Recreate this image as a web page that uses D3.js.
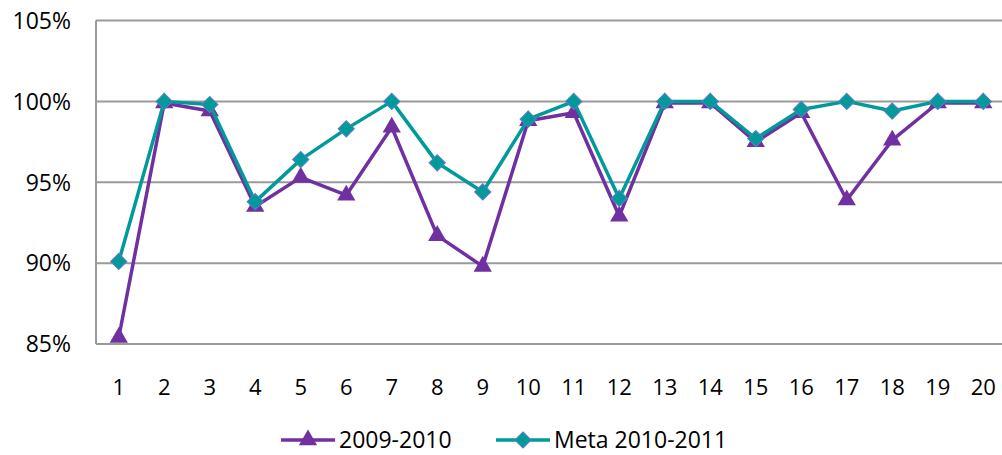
<!DOCTYPE html>
<html>
<head>
<meta charset="utf-8">
<script src="https://cdn.jsdelivr.net/npm/d3@7"></script>
<style>
  body { margin: 0; background: #fff; }
  svg text { font-family: "Open Sans", sans-serif; fill: #000; }
</style>
</head>
<body>
<div id="chart"></div>
<script>
// data
var categories = d3.range(1, 21);
var series2009 = [85.4, 99.9, 99.4, 93.5, 95.3, 94.2, 98.4, 91.7, 89.8, 98.8,
                  99.3, 92.9, 99.9, 99.9, 97.5, 99.3, 93.9, 97.6, 99.9, 99.9];
var seriesMeta = [90.1, 100, 99.8, 93.8, 96.4, 98.3, 100, 96.2, 94.4, 98.9,
                  100, 94.0, 100, 100, 97.7, 99.5, 100, 99.4, 100, 100];
var yTicks = [85, 90, 95, 100, 105];
var seriesNames = ["2009-2010", "Meta 2010-2011"];

var svgWidth = 1002;
var svgHeight = 455;

var purple = "#7030A0";
var teal = "#009A9A";

var svg = d3.select("#chart").append("svg")
  .attr("width", svgWidth)
  .attr("height", svgHeight);

// scales
var xScale = d3.scaleBand()
  .domain(categories)
  .range([96, 96 + 20 * 45.5]);

var yScale = d3.scaleLinear()
  .domain([85, 105])
  .range([344, 20.5]);

// gridlines
svg.append("g")
  .selectAll("line")
  .data(yTicks)
  .enter()
  .append("line")
  .attr("x1", 96)
  .attr("x2", svgWidth)
  .attr("y1", d => yScale(d))
  .attr("y2", d => yScale(d))
  .attr("stroke", "#9a9a9a")
  .attr("stroke-width", 2);

// left axis line
svg.append("line")
  .attr("x1", 96).attr("x2", 96)
  .attr("y1", yScale(105)).attr("y2", yScale(85))
  .attr("stroke", "#9a9a9a")
  .attr("stroke-width", 2);

// y labels
svg.append("g")
  .selectAll("text")
  .data(yTicks)
  .enter()
  .append("text")
  .attr("x", 71)
  .attr("y", d => yScale(d))
  .attr("dy", "0.36em")
  .attr("text-anchor", "end")
  .attr("font-size", "23px")
  .text(d => d + "%");

// x labels
svg.append("g")
  .selectAll("text")
  .data(categories)
  .enter()
  .append("text")
  .attr("x", d => xScale(d) + xScale.bandwidth() / 2)
  .attr("y", 395)
  .attr("text-anchor", "middle")
  .attr("font-size", "22px")
  .text(d => d);

var line = d3.line()
  .x((d, i) => xScale(categories[i]) + xScale.bandwidth() / 2)
  .y(d => yScale(d));

var triangle = d3.symbol().type(d3.symbolTriangle).size(145);
var diamond = "M0,-8L8,0L0,8L-8,0Z";

// 2009-2010 series
svg.append("path")
  .datum(series2009)
  .attr("d", line)
  .attr("fill", "none")
  .attr("stroke", purple)
  .attr("stroke-width", 3.5)
  .attr("stroke-linejoin", "round");

svg.append("g")
  .selectAll("path")
  .data(series2009)
  .enter()
  .append("path")
  .attr("d", triangle)
  .attr("transform", (d, i) => `translate(${xScale(categories[i]) + xScale.bandwidth() / 2}, ${yScale(d)})`)
  .attr("fill", purple);

// meta series
svg.append("path")
  .datum(seriesMeta)
  .attr("d", line)
  .attr("fill", "none")
  .attr("stroke", teal)
  .attr("stroke-width", 3.5)
  .attr("stroke-linejoin", "round");

svg.append("g")
  .selectAll("path")
  .data(seriesMeta)
  .enter()
  .append("path")
  .attr("d", diamond)
  .attr("transform", (d, i) => `translate(${xScale(categories[i]) + xScale.bandwidth() / 2}, ${yScale(d)})`)
  .attr("fill", teal)
  .attr("stroke", "#4f81bd")
  .attr("stroke-width", 1.2);

// legend
var legend = svg.append("g").attr("transform", "translate(0, 440)");

legend.append("line")
  .attr("x1", 281).attr("x2", 335)
  .attr("stroke", purple).attr("stroke-width", 3.5);
legend.append("path")
  .attr("d", triangle)
  .attr("transform", "translate(308, 0)")
  .attr("fill", purple);
legend.append("text")
  .attr("x", 339).attr("dy", "0.36em")
  .attr("font-size", "23px")
  .text(seriesNames[0]);

legend.append("line")
  .attr("x1", 496).attr("x2", 550)
  .attr("stroke", teal).attr("stroke-width", 3.5);
legend.append("path")
  .attr("d", diamond)
  .attr("transform", "translate(523, 0)")
  .attr("fill", teal)
  .attr("stroke", "#4f81bd")
  .attr("stroke-width", 1.2);
legend.append("text")
  .attr("x", 554).attr("dy", "0.36em")
  .attr("font-size", "23px")
  .text(seriesNames[1]);
</script>
</body>
</html>
